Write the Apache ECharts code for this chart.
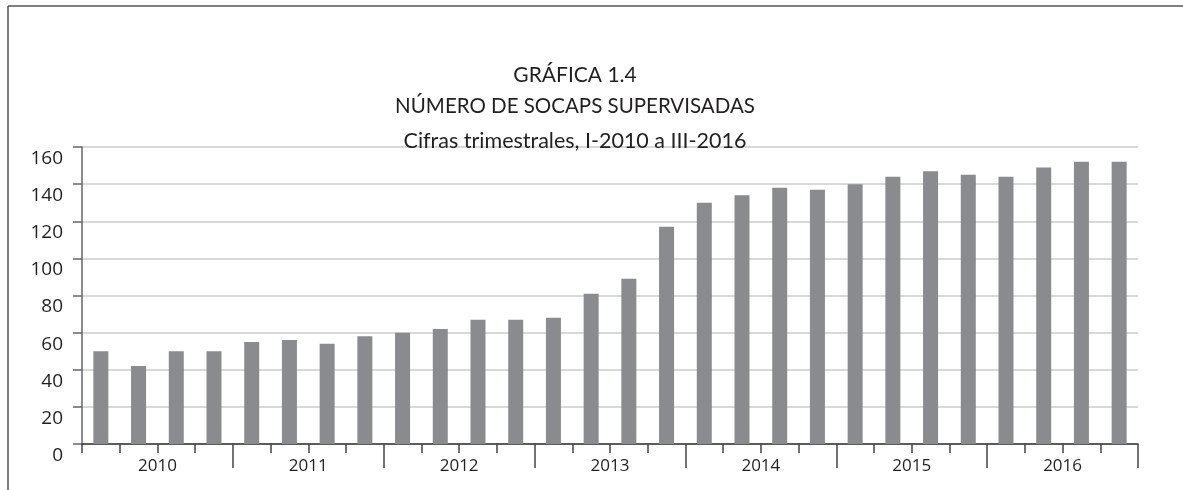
<!DOCTYPE html>
<html>
<head>
<meta charset="utf-8">
<script src="https://cdn.jsdelivr.net/npm/echarts@6/dist/echarts.min.js"></script>
<style>
  html, body { margin: 0; padding: 0; background: #fff; }
  #main { width: 1183px; height: 490px; }
</style>
</head>
<body>
<div id="main"></div>
<script>
// trimestres, I-2010 ... IV-2016
var quarters = [];
var years = ["2010", "2011", "2012", "2013", "2014", "2015", "2016"];
years.forEach(function (y) {
  ["I", "II", "III", "IV"].forEach(function (q) { quarters.push(q + "-" + y); });
});
// número de socaps supervisadas
var socaps = [50, 42, 50, 50, 55, 56, 54, 58, 60, 62, 67, 67, 68, 81, 89, 117,
              130, 134, 138, 137, 140, 144, 147, 145, 144, 149, 152, 152];
var yTicks = [0, 20, 40, 60, 80, 100, 120, 140, 160];

var chart = echarts.init(document.getElementById("main"));
var font = "Lato";
var numFont = "Open Sans";
var textColor = "#231f20";

chart.setOption({
  backgroundColor: "#fff",
  animation: false,
  title: [
    { text: "GRÁFICA 1.4", left: 570, top: 60, textAlign: "center",
      textStyle: { fontFamily: font, fontSize: 21, fontWeight: "normal", color: textColor } },
    { text: "NÚMERO DE SOCAPS SUPERVISADAS", left: 570, top: 91, textAlign: "center",
      textStyle: { fontFamily: font, fontSize: 20.5, fontWeight: "normal", color: textColor } },
    { text: "Cifras trimestrales, I-2010 a III-2016", left: 570, top: 125, textAlign: "center",
      textStyle: { fontFamily: font, fontSize: 21.5, fontWeight: "normal", color: textColor } }
  ],
  graphic: [
    { type: "line", shape: { x1: 8, y1: 6, x2: 1183, y2: 6 }, style: { stroke: "#555", lineWidth: 1.5 } },
    { type: "line", shape: { x1: 8, y1: 6, x2: 8, y2: 490 }, style: { stroke: "#555", lineWidth: 1.5 } }
  ],
  grid: { left: 82, right: 45, top: 147, bottom: 46, containLabel: false },
  xAxis: [
    {
      type: "category",
      data: quarters,
      boundaryGap: true,
      axisLine: { show: true, lineStyle: { color: "#333", width: 1.5 } },
      axisTick: { show: true, interval: 0, length: 9, lineStyle: { color: "#444", width: 1.5 } },
      axisLabel: { show: false }
    },
    {
      type: "category",
      data: years,
      position: "bottom",
      boundaryGap: true,
      axisLine: { show: false },
      axisTick: { show: true, interval: function (i) { return i !== 0; }, length: 24,
                  lineStyle: { color: "#444", width: 1.5 } },
      axisLabel: { margin: 14, fontFamily: numFont, fontSize: 17, color: textColor }
    }
  ],
  yAxis: {
    type: "value",
    min: yTicks[0],
    max: yTicks[yTicks.length - 1],
    interval: 20,
    axisLine: { show: true, lineStyle: { color: "#666", width: 1.5 } },
    axisTick: { show: true, length: 9, lineStyle: { color: "#666", width: 1.5 } },
    axisLabel: { margin: 19, fontFamily: numFont, fontSize: 19, color: textColor,
                 verticalAlign: "top", padding: [2, 0, 0, 0] },
    splitLine: { lineStyle: { color: "#cdcdcd", width: 1.5 } }
  },
  series: [{
    type: "bar",
    xAxisIndex: 0,
    data: socaps,
    barWidth: 15,
    itemStyle: { color: "#8a8b8f" }
  }]
});
</script>
</body>
</html>
